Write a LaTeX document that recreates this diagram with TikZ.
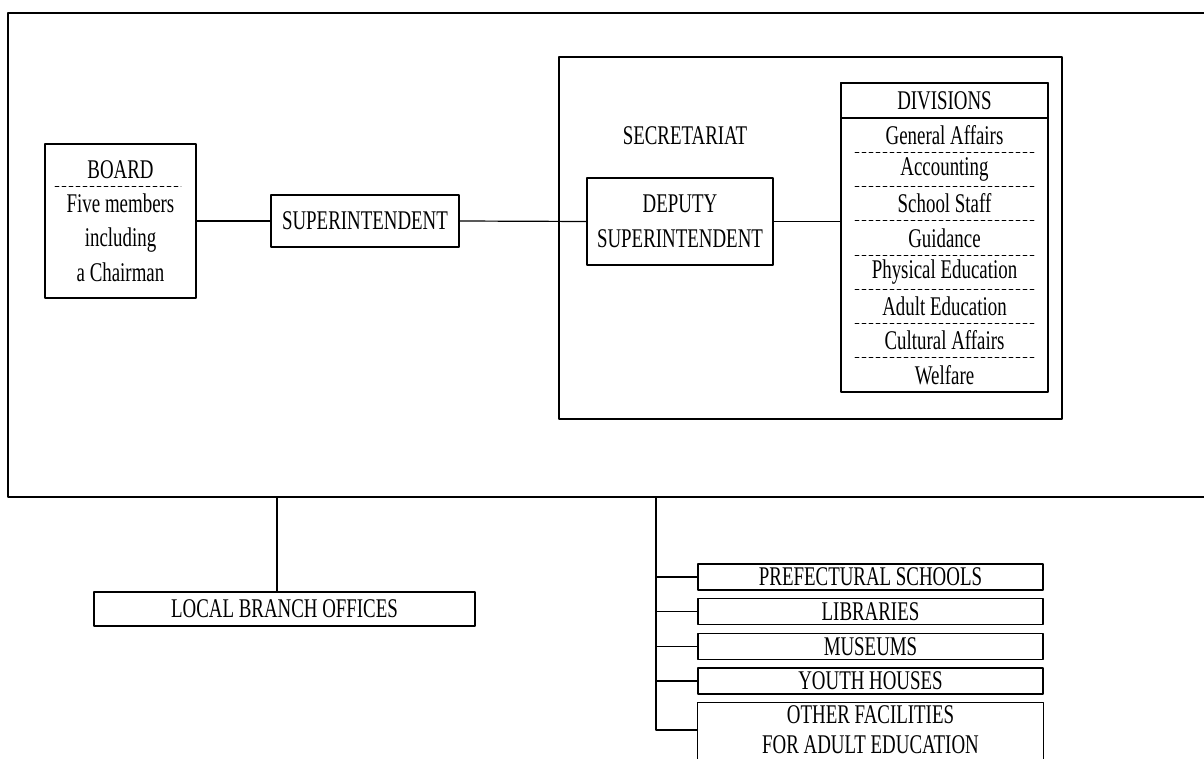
\documentclass[tikz,border=0pt]{standalone}
\usepackage{fontspec}
\setmainfont[FakeStretch=0.70]{Liberation Serif}
\usetikzlibrary{positioning}
\tikzset{
	unitbox/.style={draw, inner sep=0pt, align=center},
	sepline/.style={dash pattern=on 4pt off 3pt, line width=0.9pt},
}

\begin{document}
\begin{tikzpicture}[x=1pt, y=-1pt, line width=1.2pt, line cap=round, line join=round, font=\fontsize{27}{34.3}\selectfont]
		\path[fill=white, use as bounding box] (0,0) rectangle (1204,759);
		\clip (0,0) rectangle (1204,759);
		\draw (8,13) rectangle (1220,497);
		\coordinate (lb) at (277,497);
		\coordinate (fac) at (656,497);

		\node[unitbox, minimum width=151, minimum height=154] (board) at (120.5,221) {BOARD\\Five members\\including\\a Chairman};
		\draw[sepline] (55,186) -- (181,186);
		\node[unitbox, minimum width=188, minimum height=52] (super) at (365,221) {SUPERINTENDENT};
		\node[draw, minimum width=503, minimum height=362, inner sep=0pt] (secr) at (810.5,238) {};
		\node (secrlabel) at (685,136) {SECRETARIAT};
		\node[unitbox, minimum width=186, minimum height=87, font=\fontsize{27}{35}\selectfont] (deputy) at (680,221.5) {DEPUTY\\SUPERINTENDENT};
		\node[unitbox, minimum width=207, minimum height=309] (divs) at (944.5,237.5) {};
		\node[unitbox, anchor=north, minimum width=207, minimum height=35] (divhead) at (divs.north) {DIVISIONS};
		\foreach \name [count=\i] in {General Affairs, Accounting, School Staff, Guidance, Physical Education, Adult Education, Cultural Affairs, Welfare}
		{
			\node[minimum height=34.25, inner sep=0pt] (div\i) at (944.5,100.875+34.25*\i) {\name};
		}
		\foreach \i in {1,...,7}
			\draw[sepline] (855,118+34.25*\i) -- (1034,118+34.25*\i);

		\draw (board.east) -- (super.west);
		\draw (super.east) -- (deputy.west);
		\draw (deputy.east) -- (deputy.east -| divs.west);

		\node[unitbox, minimum width=381, minimum height=34] (local) at (284.5,609) {LOCAL BRANCH OFFICES};
		\draw (lb) -- (lb |- local.north);

		\node[unitbox, minimum width=345, minimum height=26] (pref) at (870.5,577) {PREFECTURAL SCHOOLS};
		\node[unitbox, minimum width=345, minimum height=26] (lib) at (870.5,611.5) {LIBRARIES};
		\node[unitbox, minimum width=345, minimum height=26] (mus) at (870.5,646.5) {MUSEUMS};
		\node[unitbox, minimum width=345, minimum height=26] (youth) at (870.5,681) {YOUTH HOUSES};
		\node[inner sep=0pt, align=center, minimum width=345, minimum height=54, font=\fontsize{27}{30}\selectfont] (other) at (870.5,730) {OTHER FACILITIES\\FOR ADULT EDUCATION};
		\draw ([yshift=-10pt]other.south west) |- (other.north east) -- ([yshift=-10pt]other.south east);
		\draw (fac) |- (other.west);
		\foreach \b in {pref, lib, mus, youth}
			\draw (fac |- \b.west) -- (\b.west);
\end{tikzpicture}
\end{document}
